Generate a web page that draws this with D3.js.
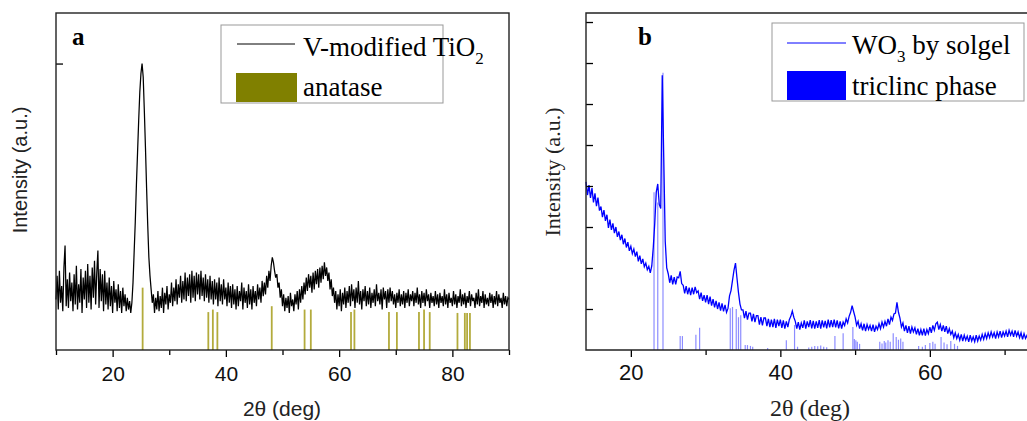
<!DOCTYPE html>
<html>
<head>
<meta charset="utf-8">
<script src="https://cdn.jsdelivr.net/npm/d3@7"></script>
<style>
body{margin:0;background:#fff}
svg{display:block}
</style>
</head>
<body>
<div id="chart"></div>
<script>
// panel a - V-modified TiO2, counts every 0.2 deg starting at 10
const tioStart = 10, tioStep = 0.2;
const tioCounts = [
30,44,24,47,28, 38,23,49,62,26, 42,25,46,29,40, 23,45,27,50,24, 39,28,48,22,43,
30,47,25,51,28, 44,24,49,31,53, 27,46,59,25,48, 29,45,23,47,27, 40,24,43,26,38,
22,41,28,36,23, 39,25,35,22,37, 26,33,23,31,24, 29,22,28,40,58, 76,98,117,136,153,
164,170,162,142,120, 96,74,55,44,36, 28,33,22,31,24, 35,23,32,25,37, 22,34,27,38,24,
33,28,40,26,37, 29,42,27,39,31, 44,28,41,30,46, 29,43,32,45,28, 47,31,44,29,46,
33,45,30,47,32, 43,29,45,31,42, 28,44,30,41,27, 42,30,40,26,43, 29,39,27,42,30,
37,26,40,28,38, 25,39,27,36,24, 38,26,35,29,40, 24,37,28,35,25, 39,27,36,24,38,
28,35,26,39,30, 37,28,41,32,40, 33,44,37,47,41, 50,55,52,47,43, 45,37,40,31,36,
26,33,23,31,25, 32,22,34,26,30, 23,33,27,35,24, 36,28,38,30,40, 33,43,35,45,37,
44,34,46,36,47, 39,48,37,49,40, 50,42,52,44,49, 41,46,36,42,32, 37,28,35,24,33,
26,36,23,34,27, 37,25,35,28,38, 26,39,29,36,25, 37,28,41,27,35, 24,36,29,38,26,
35,27,37,25,34, 28,36,26,39,29, 34,27,36,24,37, 30,35,25,36,28, 37,29,35,27,33,
25,34,28,36,26, 33,27,35,25,34, 28,36,26,33,29, 35,26,34,28,37, 27,33,25,35,28,
34,26,36,29,33, 25,34,28,32,26, 35,27,33,25,34, 28,32,26,36,27, 33,25,34,28,31,
26,35,27,33,25, 32,28,36,26,33, 27,34,25,32,28, 35,26,33,29,31, 25,34,27,36,26,
32,28,35,25,33, 27,31,26,34,28, 33,25,32,27,35, 26,33,28,31,25, 34,27,32,26,31,
30
];
// anatase reference lines
const anataseX = [25.3,36.9,37.7,38.5,48.1,53.9,55.0,62.1,62.7,68.8,70.2,74.1,75.0,76.0,80.9,82.2,82.6,83.1];
const anataseH = [37,22.5,24,22.5,26,24,24,22.5,24,22.5,22.5,22.5,24,22.5,22,22,22,22];

// panel b - WO3 by solgel, counts every 0.2 deg starting at 14
const wo3Start = 14, wo3Step = 0.2;
const wo3Counts = [
410,378,402,371,395, 360,382,351,372,340, 350,324,341,315,330, 298,318,293,309,285,
300,276,289,268,281, 258,272,250,263,242, 253,235,246,228,240, 216,230,210,222,203,
212,196,204,188,205, 250,310,385,405,355, 345,670,470,265,200, 186,164,182,160,178,
160,178,176,192,162, 158,138,156,136,152, 134,152,136,154,140, 144,124,140,120,134,
116,134,112,130,108, 124,104,120,100,116, 96,114,94,110,92, 102,132,145,170,195,
212,175,140,112,98, 98,78,95,74,90, 90,70,88,68,84, 84,62,80,60,78,
78,58,76,56,74, 56,76,54,74,58, 74,54,72,52,70, 56,74,82,95,80, 70,52,68,50,66,
54,72,52,70,56, 73,53,71,52,70, 54,73,52,72,55, 71,53,74,55,73, 56,74,55,72,53,
70,52,68,60,76, 66,82,92,108,94, 80,60,70,52,64, 48,64,46,62,50, 60,46,62,44,58,
50,64,52,68,56, 70,58,76,62,80, 72,88,90,116,92, 78,56,66,46,60, 42,58,40,56,44,
54,38,52,36,50, 36,52,35,50,40, 56,42,60,48,64, 68,50,62,46,60, 44,58,40,52,38,
46,30,42,28,38, 24,38,22,36,24, 34,20,36,22,32, 20,36,22,34,24, 38,26,40,28,42,
30,44,32,42,28, 44,32,46,30,44, 34,46,32,48,36, 46,32,48,34,44, 30,42,26,40,28,
36,22,34,24,32, 30
];
// triclinic phase reference lines
const triclinicX = [23.1,23.6,24.3,26.6,26.9,28.7,29.2,33.3,33.6,34.1,34.4,34.7,35.3,35.6,36.0,36.3,38.3,
  40.8,41.9,42.3,43.8,44.2,44.6,45.0,45.4,45.8,46.2,47.3,48.4,49.7,49.9,50.1,50.3,50.6,
  53.3,53.6,53.9,54.1,54.4,54.7,55.1,55.5,55.8,56.1,56.4,58.5,59.0,59.4,60.0,60.4,60.7,
  61.5,61.9,62.3,62.8,63.3,63.7];
const triclinicH = [385,360,676,34,34,37,54,102,105,100,80,85,12,12,10,8,5,
  24,61,8,6,8,10,9,11,8,7,34,41,56,27,24,20,15,
  20,16,22,18,24,20,41,32,25,28,20,10,8,12,17,20,15,
  32,18,14,22,15,10];

const xMajorA = [20,40,60,80], xMinorA = [10,30,50,70,90];
const yTicksA = [170];
const xMajorB = [20,40,60], xMinorB = [30,50,70];
const yTicksB = [100,200,300,400,500,600,700,800];

const W = 1027, H = 421;
const sans = "'Liberation Sans', Arial, sans-serif";
const serif = "'Liberation Serif', 'Times New Roman', serif";

const svg = d3.select("#chart").append("svg")
  .attr("width", W).attr("height", H);

// ---------- panel a ----------
const xA = d3.scaleLinear().domain([10,90]).range([56,509]);
const yA = d3.scaleLinear().domain([0,200]).range([350,13]);

const gA = svg.append("g");

gA.selectAll(".stickA").data(anataseX).enter().append("line")
  .attr("x1", d => xA(d)).attr("x2", d => xA(d))
  .attr("y1", yA(0)).attr("y2", (d,i) => yA(anataseH[i]))
  .attr("stroke", "#b3ab3c").attr("stroke-width", 1.8);

const lineA = d3.line()
  .x((d,i) => xA(tioStart + i*tioStep))
  .y(d => yA(d));
gA.append("path").datum(tioCounts)
  .attr("d", lineA)
  .attr("fill", "none").attr("stroke", "#000").attr("stroke-width", 1.25);

let ax = gA.append("g").attr("transform", "translate(0,350)")
  .call(d3.axisBottom(xA).tickValues(xMajorA).tickSize(7).tickPadding(9).tickFormat(d3.format("d")));
ax.select(".domain").remove();
ax.selectAll("text").attr("font-family", sans).attr("font-size", 21).attr("fill", "#111");
ax.selectAll("line").attr("stroke-width", 1.3);
ax = gA.append("g").attr("transform", "translate(0,350)")
  .call(d3.axisBottom(xA).tickValues(xMinorA).tickSize(5).tickFormat(""));
ax.select(".domain").remove();
ax.selectAll("line").attr("stroke-width", 1.3);
ax = gA.append("g").attr("transform", "translate(56,0)")
  .call(d3.axisLeft(yA).tickValues(yTicksA).tickSize(-7).tickFormat(""));
ax.select(".domain").remove();
ax.selectAll("line").attr("stroke-width", 1.3);

gA.append("rect").attr("x", 56).attr("y", 13).attr("width", 453).attr("height", 337)
  .attr("fill", "none").attr("stroke", "#222").attr("stroke-width", 1.4);

gA.append("text").attr("x", 72).attr("y", 45)
  .attr("font-family", serif).attr("font-weight", "bold").attr("font-size", 25).text("a");

gA.append("text").attr("transform", "translate(27,170) rotate(-90)")
  .attr("text-anchor", "middle").attr("font-family", sans).attr("font-size", 20)
  .attr("fill", "#222").text("Intensity (a.u.)");
gA.append("text").attr("x", 282).attr("y", 416)
  .attr("text-anchor", "middle").attr("font-family", sans).attr("font-size", 21)
  .attr("fill", "#222").text("2\u03b8 (deg)");

// legend a
gA.append("rect").attr("x", 221).attr("y", 25).attr("width", 222).attr("height", 78)
  .attr("fill", "#fff").attr("stroke", "#999").attr("stroke-width", 1);
gA.append("line").attr("x1", 237).attr("x2", 295).attr("y1", 44).attr("y2", 44)
  .attr("stroke", "#000").attr("stroke-width", 1);
gA.append("rect").attr("x", 236).attr("y", 73).attr("width", 61).attr("height", 29)
  .attr("fill", "#808000");
let t = gA.append("text").attr("x", 303).attr("y", 56)
  .attr("font-family", serif).attr("font-size", 27);
t.append("tspan").text("V-modified TiO");
t.append("tspan").attr("font-size", 17).attr("dy", 8).text("2");
gA.append("text").attr("x", 303).attr("y", 96)
  .attr("font-family", serif).attr("font-size", 27).text("anatase");

// ---------- panel b ----------
const xB = d3.scaleLinear().domain([14,74]).range([586, 586 + 60*7.475]);
const yB = d3.scaleLinear().domain([0,822]).range([350,13]);

const gB = svg.append("g");

gB.selectAll(".stickB").data(triclinicX).enter().append("line")
  .attr("x1", d => xB(d)).attr("x2", d => xB(d))
  .attr("y1", yB(0)).attr("y2", (d,i) => yB(triclinicH[i]))
  .attr("stroke", "#0000ff").attr("stroke-opacity", 0.45).attr("stroke-width", 1.2);

const lineB = d3.line()
  .x((d,i) => xB(wo3Start + i*wo3Step))
  .y(d => yB(d));
gB.append("path").datum(wo3Counts)
  .attr("d", lineB)
  .attr("fill", "none").attr("stroke", "#0000ff").attr("stroke-width", 1.3);

ax = gB.append("g").attr("transform", "translate(0,350)")
  .call(d3.axisBottom(xB).tickValues(xMajorB).tickSize(7).tickPadding(7).tickFormat(d3.format("d")));
ax.select(".domain").remove();
ax.selectAll("text").attr("font-family", sans).attr("font-size", 22).attr("fill", "#111");
ax.selectAll("line").attr("stroke-width", 1.3);
ax = gB.append("g").attr("transform", "translate(0,350)")
  .call(d3.axisBottom(xB).tickValues(xMinorB).tickSize(5).tickFormat(""));
ax.select(".domain").remove();
ax.selectAll("line").attr("stroke-width", 1.3);
ax = gB.append("g").attr("transform", "translate(586,0)")
  .call(d3.axisLeft(yB).tickValues(yTicksB).tickSize(-7).tickFormat(""));
ax.select(".domain").remove();
ax.selectAll("line").attr("stroke-width", 1.3);

gB.append("path").attr("d", "M1030,13H586V350H1030")
  .attr("fill", "none").attr("stroke", "#222").attr("stroke-width", 1.4);

gB.append("text").attr("x", 638).attr("y", 45)
  .attr("font-family", serif).attr("font-weight", "bold").attr("font-size", 25).text("b");

gB.append("text").attr("transform", "translate(560,172) rotate(-90)")
  .attr("text-anchor", "middle").attr("font-family", serif).attr("font-size", 22)
  .attr("fill", "#222").text("Intensity (a.u.)");
gB.append("text").attr("x", 810).attr("y", 416)
  .attr("text-anchor", "middle").attr("font-family", serif).attr("font-size", 24)
  .attr("fill", "#222").text("2\u03b8 (deg)");

// legend b
gB.append("rect").attr("x", 772).attr("y", 23).attr("width", 252).attr("height", 78)
  .attr("fill", "#fff").attr("stroke", "#999").attr("stroke-width", 1);
gB.append("line").attr("x1", 787).attr("x2", 846).attr("y1", 43).attr("y2", 43)
  .attr("stroke", "#0000ff").attr("stroke-width", 1);
gB.append("rect").attr("x", 787).attr("y", 71).attr("width", 59).attr("height", 29)
  .attr("fill", "#0000ff");
t = gB.append("text").attr("x", 852).attr("y", 54)
  .attr("font-family", serif).attr("font-size", 27);
t.append("tspan").text("WO");
t.append("tspan").attr("font-size", 17).attr("dy", 8).text("3");
t.append("tspan").attr("dy", -8).text(" by solgel");
gB.append("text").attr("x", 852).attr("y", 95)
  .attr("font-family", serif).attr("font-size", 27).text("triclinc phase");
</script>
</body>
</html>
